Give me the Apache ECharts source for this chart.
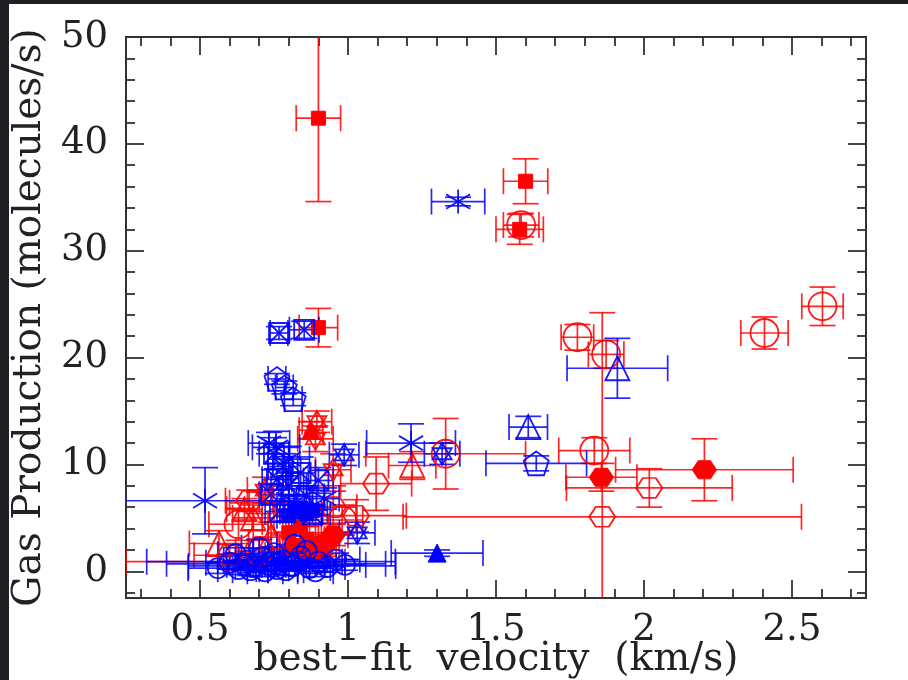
<!DOCTYPE html>
<html>
<head>
<meta charset="utf-8">
<script src="https://cdn.jsdelivr.net/npm/echarts@6/dist/echarts.min.js"></script>
<style>
html,body{margin:0;padding:0;background:#fff;}
#chart{width:908px;height:680px;}
</style>
</head>
<body>
<div id="chart"></div>
<script>
// ---- axis ticks ----
const xMajorTicks = [0.5, 1, 1.5, 2, 2.5];
const xMinorTicks = [0.3, 0.4, 0.6, 0.7, 0.8, 0.9, 1.1, 1.2, 1.3, 1.4, 1.6, 1.7, 1.8, 1.9, 2.1, 2.2, 2.3, 2.4, 2.6, 2.7];
const yMajorTicks = [0, 10, 20, 30, 40, 50];
const yMinorTicks = [-2, 2, 4, 6, 8, 12, 14, 16, 18, 22, 24, 26, 28, 32, 34, 36, 38, 42, 44, 46, 48];

// ---- data: [velocity, gas production, velocity error, production error] ----
// red groups
const redSquareFilled = [
  [0.90, 42.4, 0.075, 7.8],
  [1.60, 36.5, 0.075, 2.1],
  [1.58, 32.0, 0.08, 1.4],
  [0.90, 22.8, 0.065, 1.8],
  [0.86, 3.0, 0.06, 1.2],
  [0.80, 3.6, 0.07, 1.5],
  [0.91, 2.6, 0.05, 1.0],
  [0.84, 4.2, 0.05, 1.3]
];
const redCircleOpen = [
  [1.585, 32.4, 0.06, 1.1],
  [1.775, 21.9, 0.055, 1.2],
  [1.872, 20.3, 0.06, 1.3],
  [1.832, 11.3, 0.12, 1.2],
  [2.407, 22.3, 0.08, 1.5],
  [2.603, 24.8, 0.07, 1.8],
  [1.33, 11.0, 0.27, 3.3],
  [0.63, 4.4, 0.10, 1.5],
  [0.98, 4.8, 0.07, 1.4],
  [0.70, 1.9, 0.08, 1.0]
];
const redHexFilled = [
  [1.856, 8.8, 0.12, 1.3],
  [2.204, 9.5, 0.30, 2.9],
  [0.92, 2.4, 0.05, 1.0],
  [0.82, 2.2, 0.05, 0.8],
  [0.95, 3.4, 0.05, 1.0]
];
const redHexOpen = [
  [1.859, 5.1, 0.673, 19.1],
  [2.018, 7.8, 0.28, 1.8],
  [1.095, 8.2, 0.12, 2.5],
  [1.027, 5.2, 0.17, 1.5],
  [0.666, 6.6, 0.08, 1.0],
  [0.95, 6.0, 0.08, 1.5],
  [0.60, 1.5, 0.12, 1.0],
  [0.78, 4.6, 0.07, 1.2]
];
const redTriangleOpen = [
  [1.217, 9.9, 0.08, 1.3],
  [0.564, 2.6, 0.10, 1.2],
  [0.68, 5.0, 0.07, 1.2],
  [0.74, 3.2, 0.06, 1.4],
  [0.65, 5.8, 0.06, 1.0]
];
const redTriangleFilled = [
  [0.875, 13.2, 0.04, 0.8],
  [0.88, 2.0, 0.06, 0.8]
];
const redStar = [
  [0.895, 14.0, 0.05, 1.0],
  [0.89, 12.4, 0.06, 1.2],
  [0.95, 9.5, 0.06, 1.5],
  [0.72, 7.6, 0.06, 1.2]
];
const redLong = [
  [0.62, 0.9, 0.37, 0.8],
  [0.70, 6.4, 0.10, 1.0]
];
// blue groups
const blueAsterisk = [
  [1.372, 34.6, 0.09, 0.4],
  [1.213, 12.0, 0.15, 1.8],
  [0.517, 6.6, 0.30, 3.1],
  [0.757, 11.6, 0.08, 1.5],
  [0.733, 12.0, 0.07, 1.0],
  [0.80, 10.5, 0.07, 1.2],
  [0.92, 6.8, 0.05, 1.0]
];
const blueBoxX = [
  [0.767, 22.3, 0.03, 0.6],
  [0.852, 22.6, 0.05, 0.8],
  [0.75, 11.0, 0.05, 1.5],
  [0.78, 9.8, 0.05, 1.2],
  [0.76, 8.6, 0.05, 1.0],
  [0.80, 8.0, 0.06, 1.2],
  [0.84, 9.2, 0.05, 1.5],
  [0.86, 7.0, 0.06, 1.0],
  [0.82, 6.2, 0.06, 1.0],
  [0.77, 5.6, 0.05, 1.0],
  [0.88, 5.3, 0.06, 0.8],
  [0.90, 8.5, 0.05, 1.2],
  [0.74, 7.2, 0.04, 1.0]
];
const blueSquareFilled = [
  [0.82, 5.6, 0.05, 0.6],
  [0.86, 5.4, 0.05, 0.6],
  [0.84, 5.9, 0.04, 0.5],
  [0.88, 5.7, 0.05, 0.5],
  [0.80, 5.2, 0.04, 0.5]
];
const bluePentagon = [
  [0.760, 18.0, 0.03, 0.5],
  [0.785, 17.2, 0.03, 0.6],
  [0.815, 16.1, 0.03, 0.6],
  [1.636, 10.1, 0.17, 0.7]
];
const blueTriangleOpen = [
  [1.91, 19.0, 0.17, 2.8],
  [1.609, 13.5, 0.065, 1.0]
];
const blueTriangleFilled = [
  [1.301, 1.7, 0.155, 0.3]
];
const blueStar = [
  [1.318, 11.0, 0.06, 1.0],
  [0.987, 10.9, 0.05, 1.0],
  [1.031, 3.6, 0.06, 1.0]
];
const blueCircleOpen = [
  [0.56, 0.3, 0.10, 0.5], [0.60, 0.8, 0.08, 0.6], [0.63, 0.2, 0.07, 0.5],
  [0.66, 1.0, 0.08, 0.6], [0.68, 0.4, 0.06, 0.5], [0.71, 1.3, 0.08, 0.8],
  [0.73, 0.6, 0.06, 0.5], [0.76, 0.2, 0.07, 0.5], [0.78, 1.0, 0.08, 0.6],
  [0.81, 0.5, 0.06, 0.5], [0.84, 1.4, 0.07, 0.7], [0.87, 0.3, 0.07, 0.5],
  [0.90, 0.9, 0.08, 0.6], [0.93, 0.4, 0.06, 0.5], [0.96, 1.1, 0.08, 0.6],
  [0.99, 0.6, 0.07, 0.5], [0.70, 2.2, 0.06, 0.8], [0.82, 2.5, 0.06, 0.8],
  [0.757, 0.7, 0.37, 0.5], [0.811, 0.5, 0.35, 0.4], [0.74, 0.9, 0.42, 0.4],
  [0.62, 1.6, 0.06, 0.6], [0.67, 0.1, 0.06, 0.5], [0.75, 1.7, 0.07, 0.6],
  [0.79, 0.1, 0.06, 0.5], [0.86, 1.9, 0.07, 0.7], [0.89, 0.0, 0.06, 0.5],
  [0.65, 0.6, 0.06, 0.5], [0.72, 0.0, 0.06, 0.5], [0.83, 0.9, 0.06, 0.5]
];

// ---- marker shapes ----
const HEX = 'path://M20 10 L15 18.66 L5 18.66 L0 10 L5 1.34 L15 1.34 Z';
const PENT = 'path://M10 0 L19.51 6.91 L15.88 18.09 L4.12 18.09 L0.49 6.91 Z';
const AST = 'path://M0 4 L20 16 M0 16 L20 4 M10 0 L10 20';
const BOXX = 'path://M0 0 L20 0 L20 20 L0 20 Z M0 0 L20 20 M20 0 L0 20';
const STAR = 'path://M10 0 L18.66 15 L1.34 15 Z M10 20 L18.66 5 L1.34 5 Z';

const RED = '#ff0000';
const BLUE = '#0000ff';

function errSeries(data, color) {
  return {
    type: 'custom',
    clip: true,
    silent: true,
    data: data,
    renderItem: function (params, api) {
      const x = api.value(0), y = api.value(1), xe = api.value(2), ye = api.value(3);
      const c = api.coord([x, y]);
      const l = api.coord([x - xe, y]), r = api.coord([x + xe, y]);
      const t = api.coord([x, y + ye]), b = api.coord([x, y - ye]);
      const h = 13;
      const st = { stroke: color, lineWidth: 1.7, opacity: 0.85 };
      const ln = (x1, y1, x2, y2) => ({ type: 'line', shape: { x1, y1, x2, y2 }, style: st });
      return {
        type: 'group',
        children: [
          ln(l[0], c[1], r[0], c[1]),
          ln(l[0], c[1] - h, l[0], c[1] + h),
          ln(r[0], c[1] - h, r[0], c[1] + h),
          ln(c[0], t[1], c[0], b[1]),
          ln(c[0] - h, t[1], c[0] + h, t[1]),
          ln(c[0] - h, b[1], c[0] + h, b[1])
        ]
      };
    }
  };
}
function markSeries(data, symbol, size, color, filled) {
  return {
    type: 'scatter',
    silent: true,
    data: data.map(d => [d[0], d[1]]),
    symbol: symbol,
    symbolSize: size,
    symbolKeepAspect: true,
    itemStyle: filled
      ? { color: color, borderColor: color, borderWidth: 1, opacity: 1 }
      : { color: 'rgba(0,0,0,0)', borderColor: color, borderWidth: 1.8, opacity: 0.9 }
  };
}

const redGroups = [
  [redLong, 'none', 1, false],
  [redCircleOpen, 'circle', 28, false],
  [redHexOpen, HEX, [26, 23], false],
  [redTriangleOpen, 'triangle', 24, false],
  [redStar, STAR, 22, false],
  [redSquareFilled, 'rect', 14, true],
  [redHexFilled, HEX, [24, 21], true],
  [redTriangleFilled, 'triangle', 18, true]
];
const blueGroups = [
  [blueCircleOpen, 'circle', 20, false],
  [blueBoxX, BOXX, 20, false],
  [bluePentagon, PENT, 25, false],
  [blueTriangleOpen, 'triangle', 24, false],
  [blueAsterisk, AST, 24, false],
  [blueStar, STAR, 22, false],
  [blueSquareFilled, 'rect', 14, true],
  [blueTriangleFilled, 'triangle', 18, true]
];

const series = [];
redGroups.forEach(g => series.push(errSeries(g[0], RED)));
redGroups.forEach(g => { if (g[1] !== 'none') series.push(markSeries(g[0], g[1], g[2], RED, g[3])); });
blueGroups.forEach(g => series.push(errSeries(g[0], BLUE)));
blueGroups.forEach(g => series.push(markSeries(g[0], g[1], g[2], BLUE, g[3])));

const FONT = 'DejaVu Serif';
const lineStyle = { color: '#333', width: 2 };
const tickStyle = { color: '#333', width: 1.8 };

function xAx(pos, ticks, len, labels) {
  const a = {
    type: 'value', min: 0.25, max: 2.75, position: pos,
    axisLine: { show: true, onZero: false, lineStyle: lineStyle },
    axisTick: { show: true, inside: true, length: len, customValues: ticks, lineStyle: tickStyle },
    axisLabel: { show: false },
    splitLine: { show: false }
  };
  if (labels) {
    a.axisLabel = { show: true, customValues: xMajorTicks, fontFamily: FONT, fontSize: 37, color: '#222', margin: 14 };
    a.name = 'best\u2212fit  velocity  (km/s)';
    a.nameLocation = 'middle';
    a.nameGap = 62;
    a.nameMoveOverlap = false;
    a.nameTextStyle = { fontFamily: FONT, fontSize: 39, color: '#222', verticalAlign: 'middle' };
  }
  return a;
}
function yAx(pos, ticks, len, labels) {
  const a = {
    type: 'value', min: -2.5, max: 50, position: pos,
    axisLine: { show: true, onZero: false, lineStyle: lineStyle },
    axisTick: { show: true, inside: true, length: len, customValues: ticks, lineStyle: tickStyle },
    axisLabel: { show: false },
    splitLine: { show: false }
  };
  if (labels) {
    a.axisLabel = { show: true, customValues: yMajorTicks, fontFamily: FONT, fontSize: 37, color: '#222', margin: 18 };
    a.name = 'Gas Production (molecules/s)';
    a.nameLocation = 'middle';
    a.nameGap = 96;
    a.nameMoveOverlap = false;
    a.nameTextStyle = { fontFamily: FONT, fontSize: 39, color: '#222', verticalAlign: 'middle' };
  }
  return a;
}

const chart = echarts.init(document.getElementById('chart'), null, { renderer: 'canvas' });
chart.setOption({
  animation: false,
  backgroundColor: '#ffffff',
  grid: { left: 126, top: 37, width: 740, height: 561, containLabel: false, outerBoundsMode: 'none' },
  xAxis: [
    xAx('bottom', xMajorTicks, 18, true),
    xAx('bottom', xMinorTicks, 9, false),
    xAx('top', xMajorTicks, 18, false),
    xAx('top', xMinorTicks, 9, false)
  ],
  yAxis: [
    yAx('left', yMajorTicks, 18, true),
    yAx('left', yMinorTicks, 9, false),
    yAx('right', yMajorTicks, 18, false),
    yAx('right', yMinorTicks, 9, false)
  ],
  graphic: [
    { type: 'rect', left: 0, top: 0, shape: { width: 908, height: 4 }, style: { fill: '#1e1f22' }, z: 100 },
    { type: 'rect', left: 0, top: 0, shape: { width: 9, height: 680 }, style: { fill: '#1e1f22' }, z: 100 }
  ],
  series: series
});
</script>
</body>
</html>
